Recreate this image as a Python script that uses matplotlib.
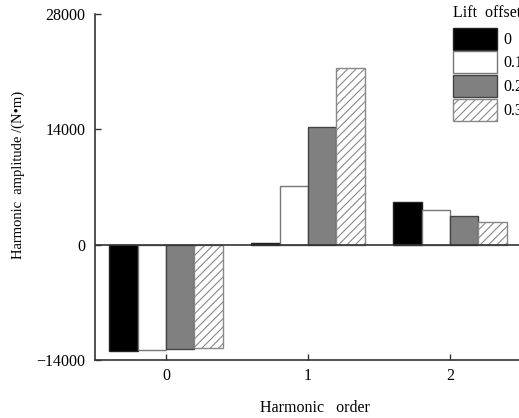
import numpy as np
import matplotlib
matplotlib.use("Agg")
import matplotlib.pyplot as plt

plt.rcParams['font.family'] = ['Liberation Serif', 'DejaVu Serif']
plt.rcParams['hatch.linewidth'] = 0.8

# Data
orders = [0, 1, 2]
offsets = ["0", "0.1", "0.2", "0.3"]
amp_0 = [-12900, 250, 5120]
amp_01 = [-12780, 7160, 4260]
amp_02 = [-12700, 14330, 3440]
amp_03 = [-12570, 21490, 2740]
series = [amp_0, amp_01, amp_02, amp_03]

faces = ["black", "white", "#808080", "white"]
edges = ["#222222", "#777777", "#444444", "#888888"]
hatches = [None, None, None, "////"]

fig = plt.figure(figsize=(5.19, 4.18), dpi=100)
ax = fig.add_axes([95 / 519, 58 / 418, 426 / 519, 346 / 418])

x = np.array(orders)
w = 0.2
for i, vals in enumerate(series):
    ax.bar(x + (i - 1.5) * w, vals, width=w, color=faces[i], edgecolor=edges[i],
           hatch=hatches[i], linewidth=1.0, label=offsets[i], zorder=2)

ax.axhline(0, color="#333333", linewidth=1.2, zorder=3)

ax.set_xlim(-0.5, 2.5)
ax.set_ylim(-14000, 28000)
ax.set_xticks(orders)
ax.set_yticks([-14000, 0, 14000, 28000])
ax.set_yticklabels(["\u221214000", "0", "14000", "28000"])
ax.tick_params(direction="in", length=4, width=1.0, labelsize=11.5, color="#333333")
ax.tick_params(axis="x", pad=6)
ax.tick_params(axis="y", pad=7)
for s in ["top", "right"]:
    ax.spines[s].set_visible(False)
for s in ["left", "bottom"]:
    ax.spines[s].set_linewidth(1.2)
    ax.spines[s].set_color("#333333")

ax.set_xlabel("Harmonic   order", fontsize=11.5)
ax.set_ylabel("Harmonic  amplitude /(N\u2022m)", fontsize=10.5)
ax.xaxis.set_label_coords(0.516, -0.115)
ax.yaxis.set_label_coords(-0.165, 0.535)

fig.text(453 / 519, 1 - 13 / 418, "Lift  offset", fontsize=11.5, va="center", ha="left")
fig.legend(loc="upper left", bbox_to_anchor=(451 / 519, 1 - 26 / 418),
           fontsize=11.5, frameon=False, handlelength=2.75, handleheight=1.75,
           labelspacing=0.1, handletextpad=0.45, borderpad=0.1,
           borderaxespad=0)

fig.savefig("out.png", dpi=100)
